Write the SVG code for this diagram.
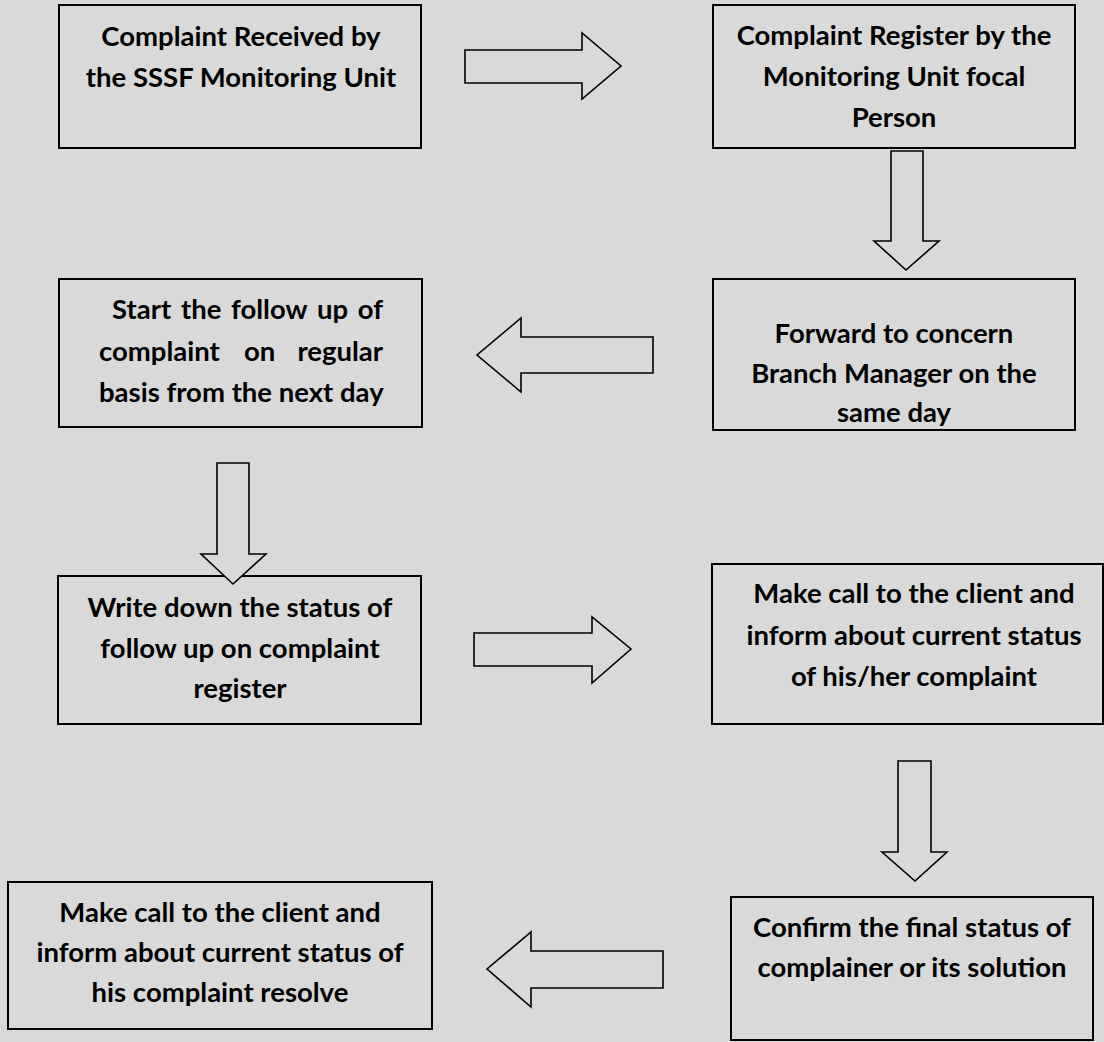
<svg xmlns="http://www.w3.org/2000/svg" width="1104" height="1042" viewBox="0 0 1104 1042">
<style>
.box{fill:#d9d9d9;stroke:#000;stroke-width:2}
.arr{fill:#d9d9d9;stroke:#000;stroke-width:1.6;stroke-linejoin:miter}
.t{font-family:Lato,"Open Sans","Liberation Sans",sans-serif;font-weight:bold;font-size:27.5px;fill:#000;text-anchor:middle}
.l{text-anchor:start}
.r{text-anchor:end}
</style>
<rect width="1104" height="1042" fill="#d9d9d9"/>
<g id="n1"><rect class="box" x="59" y="5" width="362" height="143"/>
<text class="t" x="241" y="46">Complaint Received by</text>
<text class="t" x="241" y="87">the SSSF Monitoring Unit</text></g>
<g id="n2"><rect class="box" x="713" y="5" width="362" height="143"/>
<text class="t" x="894" y="45">Complaint Register by the</text>
<text class="t" x="894" y="86">Monitoring Unit focal</text>
<text class="t" x="894" y="127">Person</text></g>
<g id="n3"><rect class="box" x="59" y="279" width="363" height="148"/>
<text class="t l" y="319"><tspan x="112">Start</tspan> <tspan x="181">the</tspan> <tspan x="231">follow</tspan> <tspan x="317">up</tspan></text>
<text class="t r" x="383" y="319">of</text>
<text class="t l" y="361"><tspan x="99">complaint</tspan> <tspan x="244">on</tspan></text>
<text class="t r" x="383" y="361">regular</text>
<text class="t l" x="99" y="402">basis from the next day</text></g>
<g id="n4"><rect class="box" x="713" y="279" width="362" height="151"/>
<text class="t" x="894" y="343">Forward to concern</text>
<text class="t" x="894" y="383">Branch Manager on the</text>
<text class="t" x="894" y="422">same day</text></g>
<g id="n5"><rect class="box" x="58" y="576" width="363" height="148"/>
<text class="t" x="240" y="617">Write down the status of</text>
<text class="t" x="240" y="658">follow up on complaint</text>
<text class="t" x="240" y="698">register</text></g>
<g id="n6"><rect class="box" x="712" y="564" width="391" height="160"/>
<text class="t" x="914" y="603">Make call to the client and</text>
<text class="t" x="914" y="645">inform about current status</text>
<text class="t" x="914" y="686">of his/her complaint</text></g>
<g id="n7"><rect class="box" x="8" y="882" width="424" height="147"/>
<text class="t" x="220" y="922">Make call to the client and</text>
<text class="t" x="220" y="962">inform about current status of</text>
<text class="t" x="220" y="1002">his complaint resolve</text></g>
<g id="n8"><rect class="box" x="731" y="897" width="362" height="143"/>
<text class="t" x="912" y="937">Confirm the final status of</text>
<text class="t" x="912" y="977">complainer or its solution</text></g>
<g id="connectors">
<polygon class="arr" points="465,50 582,50 582,33 621,66 582,99 582,83 465,83"/>
<polygon class="arr" points="891,151 923,151 923,241 939,241 906,270 874,241 891,241"/>
<polygon class="arr" points="653,337 521,337 521,318 477,355 521,392 521,373 653,373"/>
<polygon class="arr" points="217,463 249,463 249,554 266,554 233,584 201,554 217,554"/>
<polygon class="arr" points="474,633 592,633 592,617 631,649 592,683 592,666 474,666"/>
<polygon class="arr" points="898,761 931,761 931,852 947,852 915,881 882,852 898,852"/>
<polygon class="arr" points="663,951 531,951 531,932 487,969 531,1007 531,988 663,988"/>
</g>
</svg>
